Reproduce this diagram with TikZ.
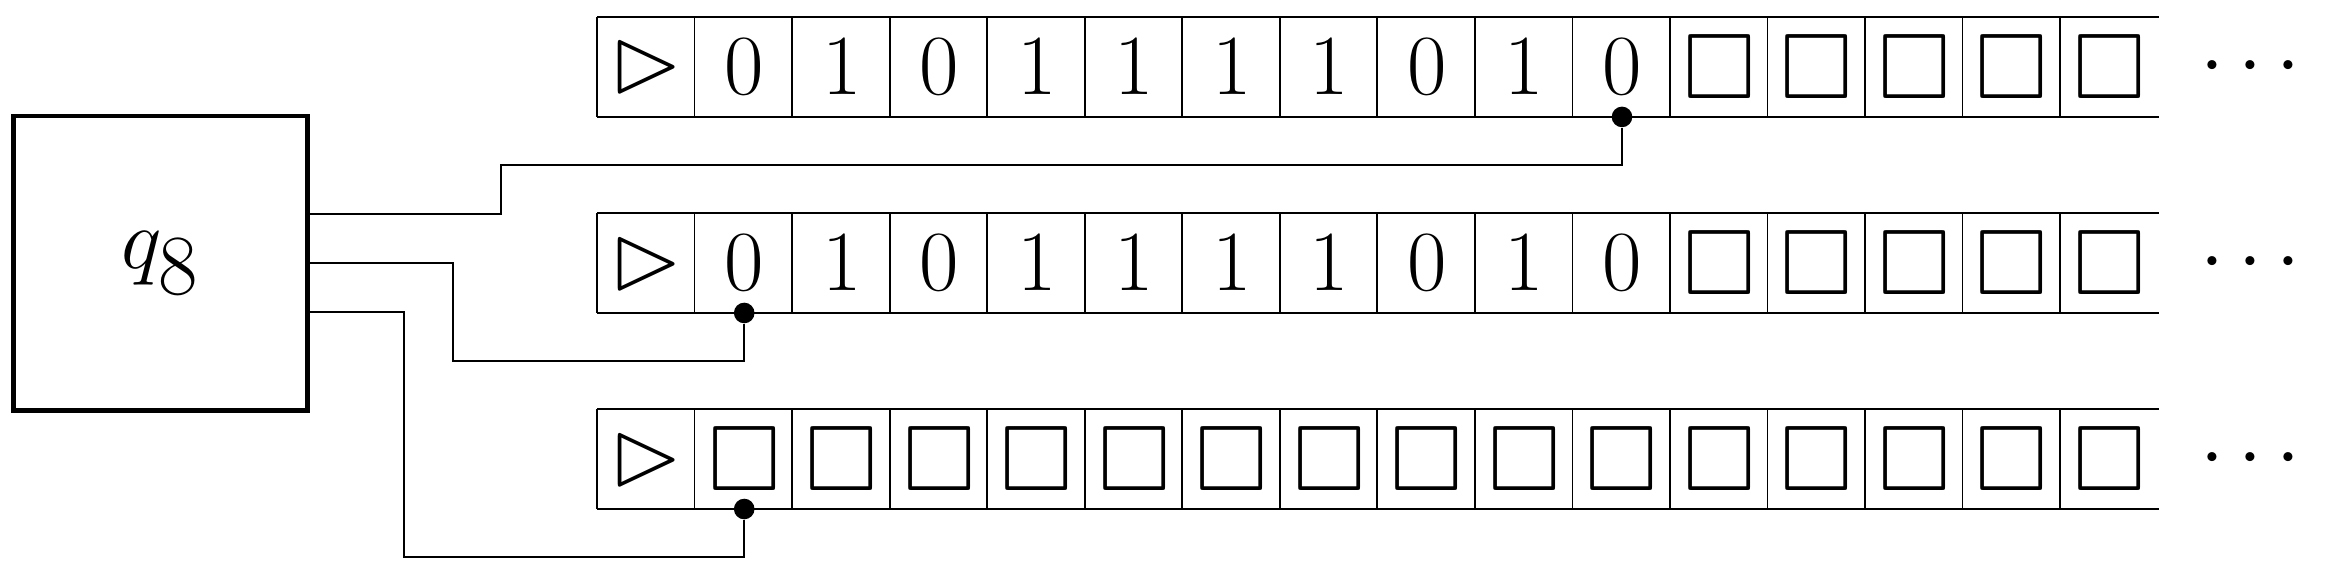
\documentclass[tikz,border=0pt]{standalone}
\usepackage{amsmath}
\usepackage{amssymb}
\usetikzlibrary{positioning}

\tikzset{
	cell/.style={minimum width=0.995cm, minimum height=1cm, inner sep=0pt, font=\fontsize{27}{30}\selectfont},
	head/.style={circle, fill=black, inner sep=0pt, minimum size=0.21cm},
	more/.style={inner sep=0pt, font=\fontsize{26}{30}\selectfont},
}

\begin{document}
\begin{tikzpicture}[line width=0.5pt]
	\useasboundingbox (-0.14,-3.13) rectangle (23.6,2.684);
	% finite control
	\node[draw, line width=1.4pt, minimum size=3cm, inner sep=0pt,
		font=\fontsize{36}{40}\selectfont] (ctrl) at (1.5,0) {$q_8$};
	% tape contents
	\foreach \sym [count=\i from 0] in {\vartriangleright,0,1,0,1,1,1,1,0,1,0,\square,\square,\square,\square,\square}
		\node[cell] (ta\i) at (5.96+0.995*\i+0.4975,2) {$\sym$};
	\foreach \sym [count=\i from 0] in {\vartriangleright,0,1,0,1,1,1,1,0,1,0,\square,\square,\square,\square,\square}
		\node[cell] (tb\i) at (5.96+0.995*\i+0.4975,0) {$\sym$};
	\foreach \sym [count=\i from 0] in {\vartriangleright,\square,\square,\square,\square,\square,\square,\square,\square,\square,\square,\square,\square,\square,\square,\square}
		\node[cell] (tc\i) at (5.96+0.995*\i+0.4975,-2) {$\sym$};
	% tape borders
	\foreach \t in {ta,tb,tc} {
		\draw (\t0.north west) -- (\t15.north east);
		\draw (\t0.south west) -- (\t15.south east);
		\foreach \i in {0,...,15}
			\draw (\t\i.north west) -- (\t\i.south west);
	}
	\node[more] (mra) at (22.89,2) {$\cdots$};
	\node[more] (mrb) at (22.89,0) {$\cdots$};
	\node[more] (mrc) at (22.89,-2) {$\cdots$};
	% heads
	\node[head] (hda) at (ta10.south) {};
	\node[head] (hdb) at (tb1.south) {};
	\node[head] (hdc) at (tc1.south) {};
	\coordinate (bnda) at (4.97,1);
	\coordinate (bndb) at (4.48,-1);
	\coordinate (bndc) at (3.98,-3);
	\draw ([yshift=5mm]ctrl.east) -| (bnda) -| (hda);
	\draw (ctrl.east) -| (bndb) -| (hdb);
	\draw ([yshift=-5mm]ctrl.east) -| (bndc) -| (hdc);
\end{tikzpicture}
\end{document}
